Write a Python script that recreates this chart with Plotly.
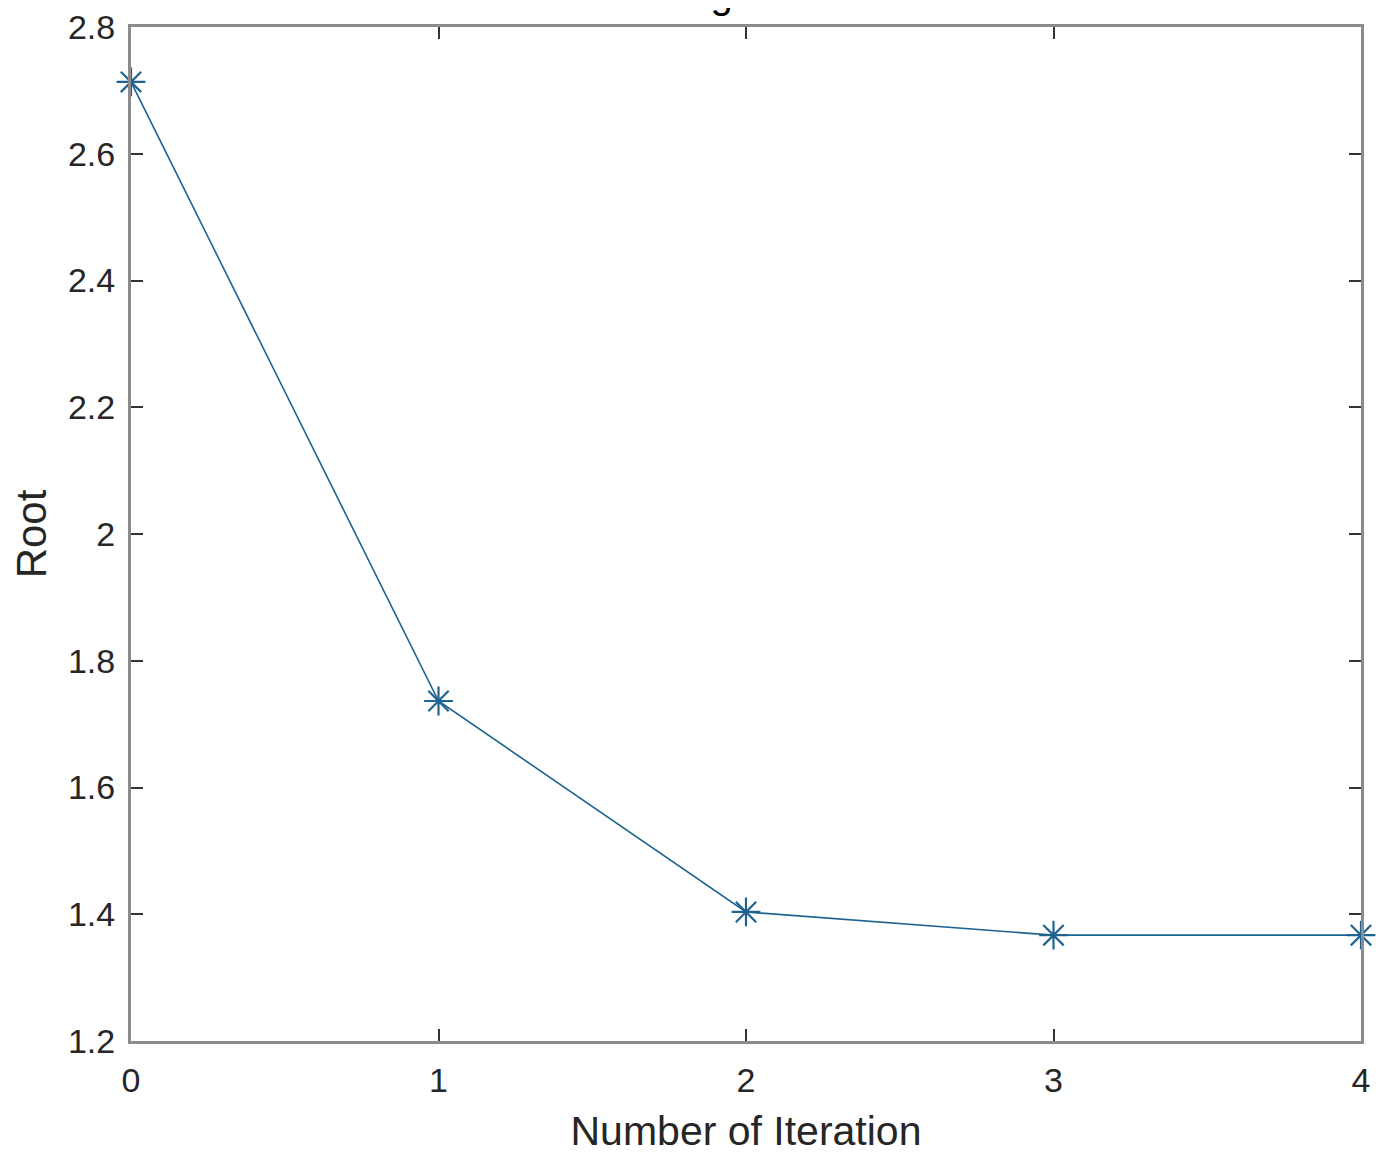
import plotly.graph_objects as go

iterations = [0, 1, 2, 3, 4]
roots = [2.7133, 1.7365, 1.4036, 1.3670, 1.3670]
x_ticks = [0, 1, 2, 3, 4]
y_ticks = [1.2, 1.4, 1.6, 1.8, 2.0, 2.2, 2.4, 2.6, 2.8]
y_tick_text = ["1.2", "1.4", "1.6", "1.8", "2", "2.2", "2.4", "2.6", "2.8"]

FONT = "Liberation Sans, Arial, Helvetica, sans-serif"

fig = go.Figure()
fig.add_trace(go.Scatter(
    x=iterations, y=roots, mode="lines+markers",
    line=dict(color="#1f6491", width=1.6),
    marker=dict(symbol="asterisk-open", size=24,
                line=dict(color="#0a6aa8", width=2.2)),
    cliponaxis=False, showlegend=False,
))

axis_common = dict(
    showline=True, linecolor="#8c8c8c", linewidth=3, mirror="ticks",
    ticks="inside", ticklen=12, tickwidth=2, tickcolor="#333333",
    showgrid=False, zeroline=False, ticklabeloverflow="allow",
    automargin=False,
    tickfont=dict(family=FONT, size=34, color="#262626"),
)

fig.update_layout(
    width=1377, height=1152,
    margin=dict(l=123, r=24, t=19, b=119),
    paper_bgcolor="white", plot_bgcolor="white",
    title=dict(text="Convergence of Root", x=0.52, xref="paper",
               y=1.0, yref="container", yanchor="bottom",
               font=dict(family=FONT, size=40, color="#000000")),
    xaxis=dict(range=[0, 4], tickvals=x_ticks, ticktext=[str(v) for v in x_ticks],
               ticklabelstandoff=7,
               title=dict(text="Number of Iteration", standoff=19,
                          font=dict(family=FONT, size=41, color="#262626")),
               **axis_common),
    yaxis=dict(range=[1.2, 2.8], tickvals=y_ticks, ticktext=y_tick_text,
               ticklabelstandoff=6,
               title=dict(text="Root", standoff=18,
                          font=dict(family=FONT, size=42, color="#262626")),
               **axis_common),
)

fig.write_html("out.html")
